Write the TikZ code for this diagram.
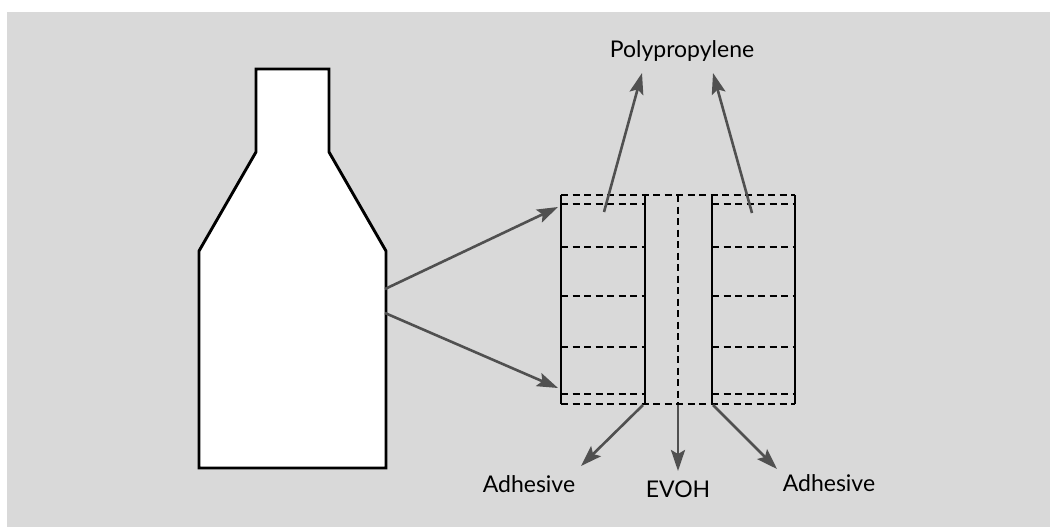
\documentclass[tikz,border=0pt]{standalone}
\usepackage{fontspec}
\setmainfont{Lato}
\usetikzlibrary{arrows.meta}
\definecolor{bg}{HTML}{D9D9D9}
\definecolor{arr}{HTML}{505050}
\begin{document}
\begin{tikzpicture}[x=1pt,y=-1pt,
  lbl/.style={font=\fontsize{23}{26}\selectfont, text=black, inner sep=0pt},
  pointer/.style={draw=arr, line width=2.6pt, -{Stealth[length=21pt,width=14pt,inset=4pt]}},
  solidline/.style={line width=2.9pt, black},
  dashline/.style={line width=2.9pt, black, dash pattern=on 7pt off 4.5pt}]
\useasboundingbox (0,0) rectangle (1050,527);
\fill[bg] (7,12) rectangle (1050,527);
% bottle
\draw[solidline, fill=white, line join=miter]
  (256,69) -- (329,69) -- (329,152) -- (386,251) -- (386,468) -- (199,468) -- (199,251) -- (256,152) -- cycle;
% layers
\draw[dashline] (561,195) -- (795,195);
\draw[dashline] (561,404) -- (795,404);
\foreach \y in {204,247,296,347,394} {
  \draw[dashline] (561,\y) -- (645,\y);
  \draw[dashline] (712,\y) -- (795,\y);
}
\draw[dashline] (678,195) -- (678,404);
\foreach \x in {561,645,712,795} \draw[solidline] (\x,195) -- (\x,404);
% coordinates
\coordinate (b1) at (385,289);
\coordinate (b2) at (385,313);
\coordinate (l1) at (558,207);
\coordinate (l2) at (558,388);
\coordinate (p1s) at (604,212);
\coordinate (p2s) at (752,213);
\coordinate (p1e) at (642,73);
\coordinate (p2e) at (713,73);
\coordinate (a1s) at (643,405);
\coordinate (es) at (678,405);
\coordinate (a2s) at (713,405);
\coordinate (a1e) at (581,466);
\coordinate (ee) at (678,471);
\coordinate (a2e) at (777,469);
% labels
\node[lbl] (pp) at (682,51) {Polypropylene};
\node[lbl] (ad1) at (529,484) {Adhesive};
\node[lbl] (evoh) at (678,489) {EVOH};
\node[lbl] (ad2) at (829,483) {Adhesive};
% arrows
\draw[pointer] (b1) -- (l1);
\draw[pointer] (b2) -- (l2);
\draw[pointer] (p1s) -- (p1e);
\draw[pointer] (p2s) -- (p2e);
\draw[pointer] (a1s) -- (a1e);
\draw[pointer] (es) -- (ee);
\draw[pointer] (a2s) -- (a2e);
\end{tikzpicture}
\end{document}
